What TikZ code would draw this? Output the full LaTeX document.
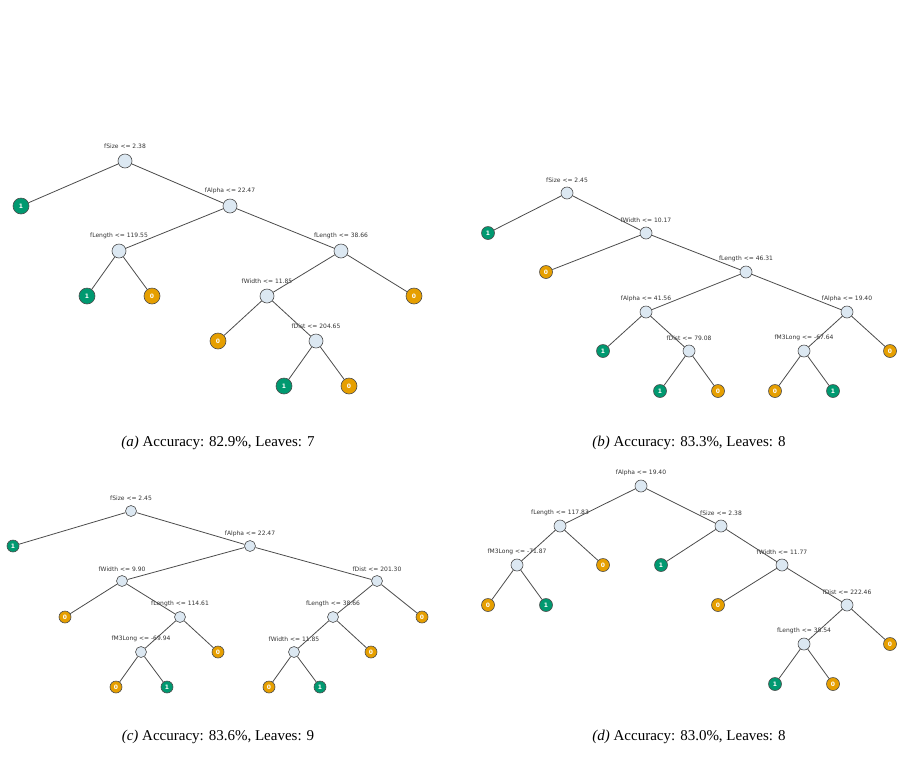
\documentclass[tikz,border=0pt]{standalone}
\usepackage{fontspec}
\setmainfont{Liberation Serif}
\newfontfamily\labfont{DejaVu Sans}
\begin{document}
\begin{tikzpicture}[x=1pt,y=-1pt,
 inn/.style={circle,draw=black!70,fill={rgb,255:red,220;green,232;blue,242},line width=0.6pt,minimum size=#1,inner sep=0pt},
 inn/.default=14,
 g/.style={circle,draw=black!70,fill={rgb,255:red,0;green,153;blue,112},text=white,font=\labfont\bfseries\fontsize{6}{6}\selectfont,line width=0.6pt,minimum size=#1,inner sep=0pt},
 g/.default=16,
 o/.style={circle,draw=black!70,fill={rgb,255:red,230;green,159;blue,0},text=white,font=\labfont\bfseries\fontsize{6}{6}\selectfont,line width=0.6pt,minimum size=#1,inner sep=0pt},
 o/.default=16,
 lab/.style={font=\labfont\fontsize{6}{7}\selectfont,text=black!80,inner sep=1pt},
 e/.style={draw=black!70,line width=0.8pt},
 captxt/.style={font=\fontsize{15}{18}\selectfont}]
\useasboundingbox (0,0) rectangle (904,764);
% (a)
\node[inn] (a0) at (125,161) {}; \node[lab] at (125,146) {fSize <= 2.38};
\node[g] (a1) at (21,206) {1};
\node[inn] (a2) at (230,206) {}; \node[lab] at (230,191) {fAlpha <= 22.47};
\node[inn] (a3) at (119,251) {}; \node[lab] at (119,236) {fLength <= 119.55};
\node[inn] (a4) at (341,251) {}; \node[lab] at (341,236) {fLength <= 38.66};
\node[g] (a5) at (87,296) {1}; \node[o] (a6) at (152,296) {0};
\node[inn] (a7) at (267,296) {}; \node[lab] at (267,281) {fWidth <= 11.85};
\node[o] (a8) at (414,296) {0};
\node[o] (a9) at (218,341) {0};
\node[inn] (a10) at (316,341) {}; \node[lab] at (316,326) {fDist <= 204.65};
\node[g] (a11) at (284,386) {1}; \node[o] (a12) at (349,386) {0};
\foreach \p/\c in {a0/a1,a0/a2,a2/a3,a2/a4,a3/a5,a3/a6,a4/a7,a4/a8,a7/a9,a7/a10,a10/a11,a10/a12} \path[e] (\p) -- (\c);
\node[captxt] at (218,443) {\textit{(a)} Accuracy: 82.9\%, Leaves: 7};
% (b)
\node[inn=12] (b0) at (567,193) {}; \node[lab] at (567,180) {fSize <= 2.45};
\node[g=13] (b1) at (488,233) {1};
\node[inn=12] (b2) at (646,233) {}; \node[lab] at (646,220) {fWidth <= 10.17};
\node[o=13] (b3) at (546,272) {0};
\node[inn=12] (b4) at (746,272) {}; \node[lab] at (746,259) {fLength <= 46.31};
\node[inn=12] (b5) at (646,312) {}; \node[lab] at (646,299) {fAlpha <= 41.56};
\node[inn=12] (b6) at (847,312) {}; \node[lab] at (847,299) {fAlpha <= 19.40};
\node[g=13] (b7) at (603,351) {1};
\node[inn=12] (b8) at (689,351) {}; \node[lab] at (689,338) {fDist <= 79.08};
\node[g=13] (b9) at (660,391) {1}; \node[o=13] (b10) at (718,391) {0};
\node[inn=12] (b11) at (804,351) {}; \node[lab] at (804,338) {fM3Long <= -67.64};
\node[o=13] (b12) at (890,351) {0};
\node[o=13] (b13) at (775,391) {0}; \node[g=13] (b14) at (833,391) {1};
\foreach \p/\c in {b0/b1,b0/b2,b2/b3,b2/b4,b4/b5,b4/b6,b5/b7,b5/b8,b8/b9,b8/b10,b6/b11,b6/b12,b11/b13,b11/b14} \path[e] (\p) -- (\c);
\node[captxt] at (689,443) {\textit{(b)} Accuracy: 83.3\%, Leaves: 8};
% (c)
\node[inn=11] (c0) at (131,511) {}; \node[lab] at (131,498) {fSize <= 2.45};
\node[g=12] (c1) at (13,546) {1};
\node[inn=11] (c2) at (250,546) {}; \node[lab] at (250,534) {fAlpha <= 22.47};
\node[inn=11] (c3) at (122,581) {}; \node[lab] at (122,569) {fWidth <= 9.90};
\node[inn=11] (c4) at (377,581) {}; \node[lab] at (377,569) {fDist <= 201.30};
\node[o=12] (c5) at (65,617) {0};
\node[inn=11] (c6) at (180,617) {}; \node[lab] at (180,604) {fLength <= 114.61};
\node[inn=11] (c7) at (141,652) {}; \node[lab] at (141,639) {fM3Long <= -69.94};
\node[o=12] (c8) at (218,652) {0};
\node[o=12] (c9) at (116,687) {0}; \node[g=12] (c10) at (167,687) {1};
\node[inn=11] (c11) at (333,617) {}; \node[lab] at (333,604) {fLength <= 38.66};
\node[o=12] (c12) at (422,617) {0};
\node[inn=11] (c13) at (294,652) {}; \node[lab] at (294,639) {fWidth <= 11.85};
\node[o=12] (c14) at (371,652) {0};
\node[o=12] (c15) at (269,687) {0}; \node[g=12] (c16) at (320,687) {1};
\foreach \p/\c in {c0/c1,c0/c2,c2/c3,c2/c4,c3/c5,c3/c6,c6/c7,c6/c8,c7/c9,c7/c10,c4/c11,c4/c12,c11/c13,c11/c14,c13/c15,c13/c16} \path[e] (\p) -- (\c);
\node[captxt] at (218,737) {\textit{(c)} Accuracy: 83.6\%, Leaves: 9};
% (d)
\node[inn=12] (d0) at (641,486) {}; \node[lab] at (641,473) {fAlpha <= 19.40};
\node[inn=12] (d1) at (560,526) {}; \node[lab] at (560,513) {fLength <= 117.83};
\node[inn=12] (d2) at (721,526) {}; \node[lab] at (721,513) {fSize <= 2.38};
\node[inn=12] (d3) at (517,565) {}; \node[lab] at (517,552) {fM3Long <= -71.87};
\node[o=13] (d4) at (603,565) {0};
\node[o=13] (d5) at (488,605) {0}; \node[g=13] (d6) at (546,605) {1};
\node[g=13] (d7) at (661,565) {1};
\node[inn=12] (d8) at (782,565) {}; \node[lab] at (782,552) {fWidth <= 11.77};
\node[o=13] (d9) at (718,605) {0};
\node[inn=12] (d10) at (847,605) {}; \node[lab] at (847,592) {fDist <= 222.46};
\node[inn=12] (d11) at (804,644) {}; \node[lab] at (804,631) {fLength <= 38.54};
\node[o=13] (d12) at (890,644) {0};
\node[g=13] (d13) at (775,684) {1}; \node[o=13] (d14) at (833,684) {0};
\foreach \p/\c in {d0/d1,d0/d2,d1/d3,d1/d4,d3/d5,d3/d6,d2/d7,d2/d8,d8/d9,d8/d10,d10/d11,d10/d12,d11/d13,d11/d14} \path[e] (\p) -- (\c);
\node[captxt] at (689,737) {\textit{(d)} Accuracy: 83.0\%, Leaves: 8};
\end{tikzpicture}
\end{document}
